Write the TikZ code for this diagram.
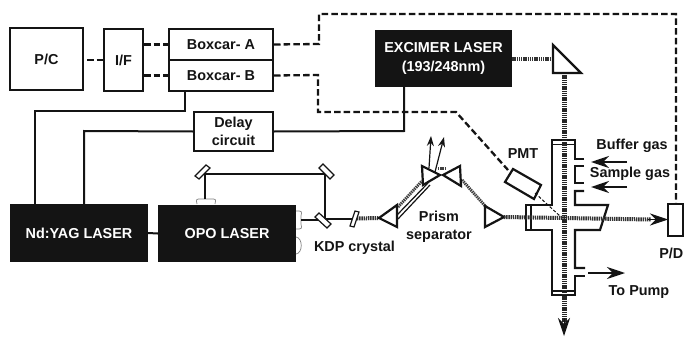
\documentclass[tikz,border=0pt]{standalone}
\usepackage{fontspec}
\setmainfont{Liberation Sans}
\usetikzlibrary{arrows.meta,calc}
\definecolor{inkdark}{HTML}{141414}
\tikzset{
  box/.style={draw=inkdark,line width=2pt,fill=white,inner sep=0pt,align=center,font=\fontsize{14.4}{18}\selectfont\bfseries,text=inkdark},
  laser/.style={fill=inkdark,draw=none,inner sep=0pt,align=center,text=white,font=\fontsize{14.4}{19}\selectfont\bfseries},
  lbl/.style={inner sep=0pt,align=center,text=inkdark,font=\fontsize{14.4}{18}\selectfont\bfseries},
  wire/.style={draw=inkdark,line width=2pt,line join=miter},
  dashwire/.style={draw=inkdark,line width=2.3pt,dash pattern=on 6.5pt off 3.2pt},
  thinwire/.style={draw=inkdark,line width=1.2pt},
  beam/.style={draw=black!80,line width=4pt,dash pattern=on 1.4pt off 0.8pt},
  vbeam/.style={draw=black!85,line width=5pt,dash pattern=on 1.4pt off 0.8pt},
  slimbeam/.style={draw=black!75,line width=3pt,dash pattern=on 1.4pt off 0.8pt},
  optic/.style={draw=inkdark,line width=2.2pt,fill=white,line join=miter},
  mirror/.style={draw=inkdark,line width=1.2pt,fill=white},
  wall/.style={draw=inkdark,line width=2.2pt,line join=miter},
  bracket/.style={draw=black!50,line width=0.7pt},
  flow/.style={draw=inkdark,line width=2pt,-{Stealth[length=18pt,width=12pt]}},
  beamtip/.style={draw=inkdark,line width=1pt,-{Stealth[length=18pt,width=12pt]}},
}
\begin{document}
\begin{tikzpicture}[x=1pt,y=-1pt]
\useasboundingbox (0,0) rectangle (684,337);
\fill[white] (0,0) rectangle (684,337);

% control boxes
\node[box,minimum width=73pt,minimum height=62pt] (pc) at (46.5,59) {P/C};
\node[box,minimum width=39pt,minimum height=62pt] (if) at (123.5,60) {I/F};
\node[box,minimum width=104pt,minimum height=31pt] (boxa) at (221,44.5) {Boxcar- A};
\node[box,minimum width=104pt,minimum height=31pt] (boxb) at (221,75.5) {Boxcar- B};
\node[box,minimum width=79pt,minimum height=39pt] (delay) at (233.5,131.5) {Delay\\circuit};

% lasers
\node[laser,minimum width=137pt,minimum height=57pt] (excimer) at (443.5,58.5) {EXCIMER LASER\\(193/248nm)};
\node[laser,minimum width=138pt,minimum height=58pt] (yag) at (79,233) {Nd:YAG LASER};
\node[laser,minimum width=138pt,minimum height=57pt] (opo) at (227,233.5) {OPO LASER};

% dashed signal lines
\coordinate (a1) at (319,44);
\coordinate (a2) at (319,14);
\coordinate (a3) at (676,14);
\coordinate (b1) at (318,75);
\coordinate (b2) at (318,112);
\coordinate (b3) at (456,112);
\coordinate (pcr) at (87,60);
\coordinate (pmtin) at (508,170);
\draw[dashwire] (pcr) -- (if.west);
\draw[dashwire] (if.east |- boxa.west) -- (boxa.west);
\draw[dashwire] (if.east |- boxb.west) -- (boxb.west);
\draw[dashwire] (boxa.east) -- (a1) -- (a2) -- (a3) -- (676,204);
\draw[dashwire] (boxb.east) -- (b1) -- (b2) -- (b3) -- (pmtin);

% solid trigger lines
\coordinate (t1) at (184.5,111);
\coordinate (t2) at (35,111);
\coordinate (d1) at (84,131);
\coordinate (d2) at (404,131);
\draw[wire] (t1 |- boxb.south) -- (t1) -- (t2) -- (t2 |- yag.north);
\draw[wire] (delay.west) -- (d1) -- (d1 |- yag.north);
\draw[wire] (delay.east) -- (d2) -- (d2 |- excimer.south);
\draw[wire] (yag.east) -- (opo.west);

% OPO output brackets
\draw[bracket] (296,211) .. controls (302,211) .. (301,216) -- (301,224) .. controls (302,229) .. (296,229);
\draw[bracket] (296,237) .. controls (303,238) and (303,253) .. (296,254);
\draw[bracket] (197,204) .. controls (196,199) .. (201,199) -- (211,199) .. controls (216,199) .. (215,204);

% OPO beam path
\coordinate (m3c) at (322.5,220);
\coordinate (kdpc) at (354.5,218.5);
\draw[wire] (205,199) -- (205,174) -- (325,174) -- (325,218.5) -- (kdpc);
\draw[wire] (301,220) -- (m3c);
\draw[mirror] (195,176) -- (206,165) -- (210,168) -- (199,179) -- cycle;
\draw[mirror] (319,168) -- (323,164) -- (334,175) -- (330,179) -- cycle;
\draw[mirror] (315,217) -- (319,213) -- (331,224) -- (327,228) -- cycle;

% beams
\coordinate (kbeam) at (357,218.5);
\coordinate (p1a) at (379,218);
\draw[beam] (kbeam) -- (p1a);
\draw[mirror] (355,211) -- (359,212) -- (354,227) -- (350,226) -- cycle;
\draw[slimbeam] (398,207) -- (422,181);
\draw[thinwire] (397,215) -- (428,183);
\draw[thinwire] (398,219) -- (430,185);
\draw[slimbeam] (462,180) -- (487,208);
\draw[slimbeam] (438,168.5) -- (446,168.5);

% prisms
\coordinate (apex2) at (504,217);
\draw[optic] (p1a) -- (397,205) -- (397,227) -- cycle;
\draw[optic] (apex2) -- (485,206) -- (485,227) -- cycle;
\draw[optic] (422,166) -- (440,175) -- (423,185) -- cycle;
\draw[optic] (460,166) -- (443,175) -- (461,186) -- cycle;
\draw[draw=inkdark,line width=1.2pt,-{Stealth[length=10pt,width=7pt]}] (429,168) -- (431,136);
\draw[draw=inkdark,line width=1.2pt,-{Stealth[length=10pt,width=7pt]}] (435,172) -- (444,137);

% excimer beam and turning prism
\coordinate (tp) at (564,73);
\draw[beam] (excimer.east |- 0,59) -- (553,59);
\draw[vbeam] (tp) -- (564,140);

% chamber
\fill[white] (552,140) -- (575,140) -- (575,205) -- (608,205) -- (600,230) -- (575,230) -- (575,295) -- (552,295) -- (552,230) -- (526,230) -- (526,205) -- (552,205) -- cycle;
\draw[wall] (584,159) -- (575,159) -- (575,140) -- (552,140) -- (552,205) -- (526,205) -- (526,230) -- (552,230) -- (552,295) -- (575,295) -- (575,276) -- (585,276);
\draw[wall] (584,166) -- (575,166) -- (575,183) -- (584,183);
\draw[wall] (584,191) -- (575,191) -- (575,205) -- (608,205) -- (600,230) -- (575,230) -- (575,268) -- (585,268);
\draw[draw=inkdark,line width=1.4pt] (552,144.5) -- (575,144.5);
\draw[draw=inkdark,line width=1.4pt] (552,291) -- (575,291);
\draw[draw=inkdark,line width=1.4pt] (531,205) -- (531,230);

% beams through the chamber
\coordinate (pdin) at (668,219.5);
\coordinate (bot) at (564,336);
\draw[beam] (apex2) -- (651,219.5);
\draw[beamtip] (648,219.5) -- (pdin);
\draw[vbeam] (564,140) -- (564,322);
\draw[beamtip] (564,318) -- (bot);
\draw[optic] (553,45) -- (581,73) -- (553,73) -- cycle;

% PMT and P/D
\draw[optic] (513,169) -- (541,185) -- (534,199) -- (505,182) -- cycle;
\coordinate (focus) at (561,217);
\draw[draw=inkdark,line width=1pt,dash pattern=on 3pt off 2pt] (535,193) -- (focus);
\node[box,minimum width=15pt,minimum height=32pt] (pd) at (675.5,220) {};

% gas flows
\draw[flow] (627,162) -- (591,162);
\draw[flow] (627,187) -- (591,187);
\draw[flow] (588,273) -- (625,273);

% labels
\node[lbl] (kdp) at (354.5,248) {KDP crystal};
\node[lbl] (prism) at (439,227) {Prism\\separator};
\node[lbl] (pmtl) at (523,154) {PMT};
\node[lbl] (buf) at (632,146) {Buffer gas};
\node[lbl] (sam) at (630,174) {Sample gas};
\node[lbl] (pump) at (639,292) {To Pump};
\node[lbl,anchor=east] (pdl) at (683.5,253) {P/D};
\end{tikzpicture}
\end{document}
